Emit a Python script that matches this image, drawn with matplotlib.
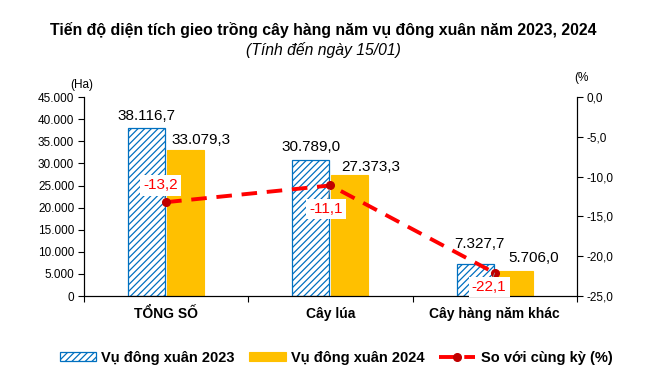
import matplotlib.pyplot as plt
import numpy as np

plt.rcParams["font.family"] = ["Liberation Sans", "DejaVu Sans"]
plt.rcParams["hatch.linewidth"] = 0.9

categories = ["TỔNG SỐ", "Cây lúa", "Cây hàng năm khác"]
area_2023 = [38116.7, 30789.0, 7327.7]
area_2024 = [33079.3, 27373.3, 5706.0]
pct_change = [-13.2, -11.1, -22.1]
left_ticks = [0, 5000, 10000, 15000, 20000, 25000, 30000, 35000, 40000, 45000]
right_ticks = [0, -5, -10, -15, -20, -25]


def vn_num(v, dec=1):
    s = f"{v:,.{dec}f}"
    return s.replace(",", "X").replace(".", ",").replace("X", ".")


fig = plt.figure(figsize=(6.46, 3.87), dpi=100)
ax = fig.add_axes([0.130, 0.235, 0.763, 0.514])
ax2 = ax.twinx()

x = np.arange(len(categories))
w = 0.225
gap = 0.006
b1 = ax.bar(x - w / 2 - gap, area_2023, w, color="white", edgecolor="#0070C0",
            hatch="/////", linewidth=0.9, label="Vụ đông xuân 2023")
b2 = ax.bar(x + w / 2 + gap, area_2024, w, color="#FFC000", edgecolor="#FFC000",
            linewidth=0.8, label="Vụ đông xuân 2024")

# value labels above bars (offsets in points)
offs1 = [(0, 3), (0, 4), (3, 9)]
offs2 = [(11, 2), (15, 1), (14, 4)]
for i in range(len(categories)):
    ax.annotate(vn_num(area_2023[i]), (x[i] - w / 2 - gap, area_2023[i]),
                xytext=offs1[i], textcoords="offset points", ha="center",
                va="bottom", fontsize=11)
    ax.annotate(vn_num(area_2024[i]), (x[i] + w / 2 + gap, area_2024[i]),
                xytext=offs2[i], textcoords="offset points", ha="center",
                va="bottom", fontsize=11)

ax.set_xlim(-0.5, 2.5)
ax.set_ylim(0, 45000)
ax.set_yticks(left_ticks)
ax.set_yticklabels([vn_num(t, 0) for t in left_ticks], fontsize=8.5)
ax.set_xticks([-0.5, 0.5, 1.5, 2.5])
ax.set_xticklabels([])
ax.set_xticks(x, minor=True)
ax.set_xticklabels(categories, minor=True, fontsize=10, fontweight="bold")
ax.tick_params(axis="x", which="minor", length=0, pad=8)
ax.tick_params(axis="x", which="major", length=4, direction="out")
ax.tick_params(axis="y", length=4, direction="out", pad=3)
ax.spines["top"].set_visible(False)

# line on right axis
ln, = ax2.plot(x, pct_change, color="#FF0000", lw=2.8, ls=(0, (4, 2.5)),
               marker="o", markersize=5.5, markerfacecolor="#C00000",
               markeredgecolor="#C00000", label="So với cùng kỳ (%)")
ax2.set_ylim(-25, 0)
ax2.set_yticks(right_ticks)
ax2.set_yticklabels([vn_num(t) for t in right_ticks], fontsize=8.5)
ax2.tick_params(axis="y", length=4, direction="out", pad=3)
ax2.spines["top"].set_visible(False)

pct_offs = [(-4, 12), (-3, -17), (-4, -10)]
for i in range(len(categories)):
    ax2.annotate(vn_num(pct_change[i]), (x[i], pct_change[i]),
                 xytext=pct_offs[i], textcoords="offset points", ha="center",
                 va="center", fontsize=11, color="#FF0000",
                 bbox=dict(boxstyle="square,pad=0.2", fc="white", ec="none"),
                 arrowprops=dict(arrowstyle="-", color="#999999", lw=0.6,
                                 shrinkA=0, shrinkB=3))

fig.text(0.500, 0.923, "Tiến độ diện tích gieo trồng cây hàng năm vụ đông xuân năm 2023, 2024",
         ha="center", va="center", fontsize=11.4, fontweight="bold")
fig.text(0.500, 0.870, "(Tính đến ngày 15/01)", ha="center", va="center",
         fontsize=11.3, fontstyle="italic")
fig.text(0.127, 0.780, "(Ha)", ha="center", va="center", fontsize=8.5)
fig.text(0.900, 0.798, "(%", ha="center", va="center", fontsize=8.5)

leg = fig.legend([b1, b2, ln], [b1.get_label(), b2.get_label(), ln.get_label()],
                 loc="center", bbox_to_anchor=(0.52, 0.076), ncol=3, frameon=False,
                 prop=dict(weight="bold", size=10.5), handlelength=2.5,
                 handleheight=0.55, columnspacing=1.0, handletextpad=0.35)

fig.savefig("out.png", dpi=100)
